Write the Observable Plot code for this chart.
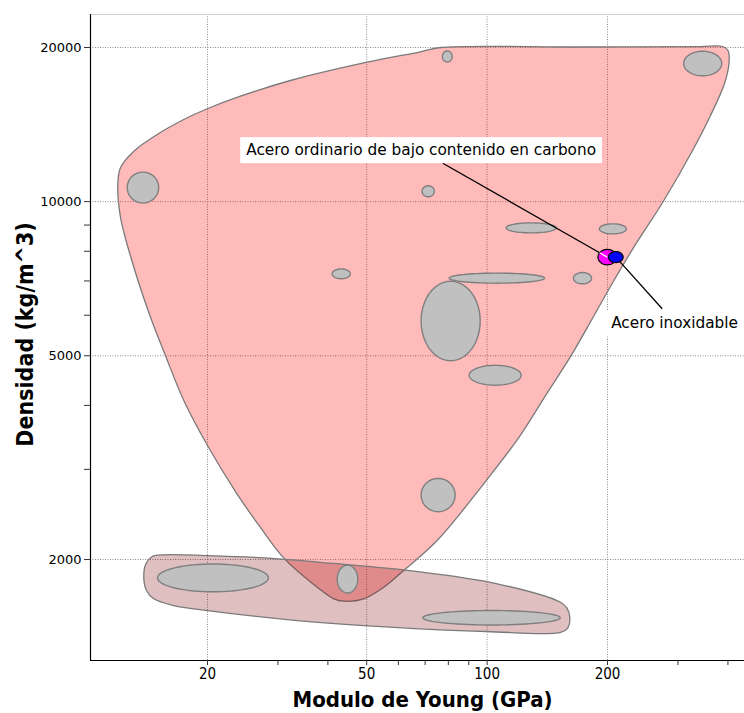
<!DOCTYPE html>
<html><head><meta charset="utf-8">
<script src="https://cdn.jsdelivr.net/npm/d3@7"></script>
<script src="https://cdn.jsdelivr.net/npm/@observablehq/plot@0.6"></script>
<style>body{margin:0;background:#fff;} svg{display:block}</style>
</head><body><div id="chart"></div>
<script>
// ---- data (E in GPa, density in kg/m^3) ----
const grayEmin   = [12.6, 41.0, 77.3, 310, 68.8, 111.6, 190.8, 80.4, 164.4, 68.4, 90.2, 68.4, 69.1, 15.0, 42.2];
const grayEmax   = [15.1, 45.5, 81.8, 386, 73.8, 148.9, 222.9, 139.2, 182.4, 96.1, 121.7, 83.2, 152.3, 28.4, 47.5];
const grayRhoMin = [9940, 7070, 18740, 17610, 10220, 8690, 8650, 6930, 6910, 4890, 4380, 2480, 1490, 1730, 1720];
const grayRhoMax = [11420, 7390, 19690, 19670, 10740, 9090, 9050, 7250, 7270, 6990, 4790, 2880, 1590, 1960, 1950];

const steelEmin = 189.3, steelEmax = 210.7, steelRhoMin = 7527, steelRhoMax = 8066;       // acero ordinario
const stainEmin = 201.1, stainEmax = 218.8, stainRhoMin = 7602, stainRhoMax = 7987;       // acero inoxidable

const metalsE   = [12.12, 13.09, 14.97, 17.45, 19.97, 24.18, 32.25, 50.15, 68.17, 76.48, 171.2, 341.6, 387.9, 400.2, 402.6, 392.2, 361.8, 326.3, 276.6, 232.7, 207.5, 178.0, 162.3, 139.2, 120.5, 99.5, 75.0, 61.9, 55.2, 49.2, 43.8, 41.4, 37.6, 31.0, 27.1, 23.7, 20.0, 17.45, 15.70, 14.41, 13.09, 12.12, 11.94];
const metalsRho = [11642, 12544, 13527, 14470, 15184, 16068, 17242, 18722, 19616, 20000, 20045, 20081, 20090, 19731, 18697, 17014, 14732, 12584, 10052, 8148, 7014, 5676, 5007, 4150, 3477, 2853, 2178, 1904, 1766, 1676, 1658, 1676, 1766, 2015, 2313, 2687, 3339, 4088, 5007, 5946, 7446, 9325, 10836];

const compE   = [14.55, 15.55, 20.0, 27.65, 40.6, 65.6, 106.0, 152.6, 158.4, 161.0, 159.3, 152.6, 99.5, 49.2, 33.5, 20.0, 16.47, 14.68, 14.08, 13.86, 14.04];
const compRho = [2027, 2043, 2036, 2015, 1967, 1898, 1793, 1650, 1608, 1543, 1473, 1442, 1447, 1486, 1520, 1590, 1626, 1676, 1740, 1847, 1964];

const labelText = ["Acero ordinario de bajo contenido en carbono", "Acero inoxidable"];
const labelE    = [68.4, 294.2];
const labelRho  = [12600, 5782];
const leaderE   = [77.5, 274.0];     // end of leader at the label
const leaderRho = [11884, 6176];

const xMajor = [20, 50, 100, 200];
const xMinor = [30, 40, 60, 70, 80, 90, 300, 400];
const yMajor = [2000, 5000, 10000, 20000];
const yMinor = [3000, 4000, 6000, 7000, 8000, 9000];
const xDomain = [10.2, 440];
const yDomain = [1270, 23200];

// ---- helpers: build shapes from data ----
function ellipse(e0, e1, r0, r1, id) {
  const cx = (Math.log10(e0) + Math.log10(e1)) / 2, ax = (Math.log10(e1) - Math.log10(e0)) / 2;
  const cy = (Math.log10(r0) + Math.log10(r1)) / 2, ay = (Math.log10(r1) - Math.log10(r0)) / 2;
  return d3.range(72).map(i => {
    const a = 2 * Math.PI * i / 72;
    return {id, E: 10 ** (cx + ax * Math.cos(a)), rho: 10 ** (cy + ay * Math.sin(a))};
  });
}
const grayPts = grayEmin.flatMap((_, i) => ellipse(grayEmin[i], grayEmax[i], grayRhoMin[i], grayRhoMax[i], i));
const steelPts = ellipse(steelEmin, steelEmax, steelRhoMin, steelRhoMax, "s");
const stainPts = ellipse(stainEmin, stainEmax, stainRhoMin, stainRhoMax, "i");
const metals = metalsE.map((E, i) => ({E, rho: metalsRho[i]}));
const comps = compE.map((E, i) => ({E, rho: compRho[i]}));

const steelC = {E: Math.sqrt(steelEmin * steelEmax), rho: Math.sqrt(steelRhoMin * steelRhoMax)};
const stainC = {E: Math.sqrt(stainEmin * stainEmax), rho: Math.sqrt(stainRhoMin * stainRhoMax)};
function edge(c, e0, e1, r0, r1, p) {
  const ax = (Math.log10(e1) - Math.log10(e0)) / 2, ay = (Math.log10(r1) - Math.log10(r0)) / 2;
  const dx = Math.log10(p.E) - Math.log10(c.E), dy = Math.log10(p.rho) - Math.log10(c.rho);
  const s = 1 / Math.sqrt((dx / ax) ** 2 + (dy / ay) ** 2);
  return {E: 10 ** (Math.log10(c.E) + s * dx), rho: 10 ** (Math.log10(c.rho) + s * dy)};
}
const lead1 = {E: leaderE[0], rho: leaderRho[0]};
const lead2 = {E: leaderE[1], rho: leaderRho[1]};
const edge1 = edge(steelC, steelEmin, steelEmax, steelRhoMin, steelRhoMax, lead1);
const labels = labelText.map((t, i) => ({t, E: labelE[i], rho: labelRho[i]}));

const gridStyle = {stroke: "#8a8a8a", strokeOpacity: 1, strokeDasharray: "1,1.5", strokeWidth: 1};
const condensed = "'DejaVu Sans Condensed', 'DejaVu Sans', sans-serif";

const plot = Plot.plot({
  width: 744, height: 713,
  marginLeft: 90, marginRight: 0, marginTop: 14, marginBottom: 53,
  style: {fontFamily: "DejaVu Sans", background: "#fff", color: "black"},
  x: {type: "log", domain: xDomain, axis: null},
  y: {type: "log", domain: yDomain, axis: null},
  marks: [
    Plot.gridX(xMajor, gridStyle),
    Plot.gridY(yMajor, gridStyle),
    Plot.ruleY([yDomain[1]], {stroke: "#d0d0d0"}),
    Plot.line(metals, {x: "E", y: "rho", curve: "catmull-rom-closed", fill: "#ff0000", fillOpacity: 0.27, stroke: "#7a7a7a", strokeWidth: 1.3}),
    Plot.line(comps, {x: "E", y: "rho", curve: "catmull-rom-closed", fill: "#800000", fillOpacity: 0.25, stroke: "#7a7a7a", strokeWidth: 1.3}),
    Plot.line(grayPts, {x: "E", y: "rho", z: "id", curve: "linear-closed", fill: "#c0c0c0", stroke: "#7f7f7f", strokeWidth: 1.4}),
    Plot.line(steelPts, {x: "E", y: "rho", curve: "linear-closed", fill: "#ff00ff", stroke: "black", strokeWidth: 1.2}),
    Plot.link([0], {x1: () => lead1.E, y1: () => lead1.rho, x2: () => edge1.E, y2: () => edge1.rho, stroke: "black", strokeWidth: 1.3}),
    Plot.link([0], {x1: () => edge1.E, y1: () => edge1.rho, x2: () => steelC.E, y2: () => steelC.rho, stroke: "white", strokeWidth: 1.3}),
    Plot.link([0], {x1: () => stainC.E, y1: () => stainC.rho, x2: () => lead2.E, y2: () => lead2.rho, stroke: "black", strokeWidth: 1.3}),
    Plot.line(stainPts, {x: "E", y: "rho", curve: "linear-closed", fill: "#0000ff", stroke: "black", strokeWidth: 1.2}),
    Plot.text(labels, {x: "E", y: "rho", text: "t", fontSize: 15.3, fill: "black"}),
    Plot.ruleX([xDomain[0]], {stroke: "black", strokeWidth: 1.2}),
    Plot.ruleY([yDomain[0]], {stroke: "black", strokeWidth: 1.2}),
    Plot.axisX(xMajor, {anchor: "bottom", tickSize: 5, tickPadding: 3, fontSize: 15, fontFamily: condensed, tickFormat: d => String(d), label: null, stroke: "#333"}),
    Plot.axisX(xMinor, {anchor: "bottom", tickSize: 5, tickFormat: () => "", label: null, stroke: "#333"}),
    Plot.axisY(yMajor, {anchor: "left", tickSize: 6, tickPadding: 3, fontSize: 13, tickFormat: d => String(d), label: null, stroke: "#333"}),
    Plot.axisY(yMinor, {anchor: "left", tickSize: 6, tickFormat: () => "", label: null, stroke: "#333"}),
    Plot.text(["Modulo de Young (GPa)"], {text: d => d, frameAnchor: "bottom", textAnchor: "middle", lineAnchor: "middle", dy: 39, dx: 5, fontSize: 22, fontWeight: "bold", fontFamily: condensed, fill: "black"}),
    Plot.text(["Densidad (kg/m^3)"], {text: d => d, frameAnchor: "left", textAnchor: "middle", lineAnchor: "middle", dx: -65, dy: -3, rotate: -90, fontSize: 23, fontWeight: "bold", fontFamily: condensed, fill: "black"})
  ]
});
document.getElementById("chart").append(plot);

// white boxes behind the annotation texts
Array.from(plot.querySelectorAll("text"))
  .filter(t => labelText.includes(t.textContent.trim()))
  .forEach(t => {
    const b = t.getBBox();
    const r = document.createElementNS("http://www.w3.org/2000/svg", "rect");
    const cy = b.y + b.height / 2;
    r.setAttribute("x", b.x - 6); r.setAttribute("width", b.width + 12);
    r.setAttribute("y", cy - 13); r.setAttribute("height", 26);
    r.setAttribute("fill", "white");
    const tr = t.getAttribute("transform");
    if (tr) r.setAttribute("transform", tr);
    t.parentNode.insertBefore(r, t);
  });
</script>
</body></html>
